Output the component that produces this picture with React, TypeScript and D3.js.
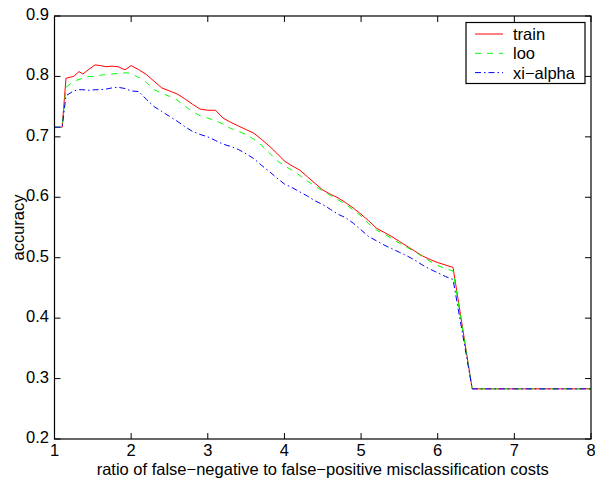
import React from 'react';
import * as d3 from 'd3';

// cost ratio (x) shared by all three curves
const ratio = [
  1.0, 1.1, 1.15, 1.25, 1.32, 1.37, 1.45, 1.53, 1.6, 1.67, 1.75, 1.83, 1.92,
  2.0, 2.1, 2.2, 2.3, 2.4, 2.5, 2.6, 2.7, 2.8, 2.9, 3.0, 3.1, 3.2, 3.3, 3.4,
  3.5, 3.6, 3.7, 3.8, 3.9, 4.0, 4.1, 4.2, 4.3, 4.4, 4.5, 4.6, 4.7, 4.8, 4.9,
  5.0, 5.1, 5.2, 5.3, 5.4, 5.5, 5.6, 5.7, 5.8, 5.9, 6.0, 6.1, 6.2, 6.45, 8.0,
];

const train = [
  0.716, 0.716, 0.797, 0.800, 0.808, 0.804, 0.812, 0.819, 0.818, 0.816, 0.817, 0.816, 0.811,
  0.818, 0.811, 0.803, 0.792, 0.781, 0.776, 0.771, 0.763, 0.754, 0.746, 0.744, 0.744, 0.731, 0.724, 0.718,
  0.712, 0.706, 0.696, 0.685, 0.673, 0.660, 0.652, 0.645, 0.634, 0.623, 0.612, 0.605, 0.599, 0.591, 0.582,
  0.572, 0.561, 0.549, 0.542, 0.535, 0.527, 0.519, 0.511, 0.503, 0.497, 0.492, 0.488, 0.484, 0.283, 0.283,
];

const loo = [
  0.716, 0.716, 0.782, 0.792, 0.795, 0.797, 0.800, 0.800, 0.802, 0.803, 0.804, 0.805, 0.806,
  0.805, 0.798, 0.790, 0.778, 0.772, 0.767, 0.761, 0.751, 0.742, 0.735, 0.731, 0.727, 0.721, 0.714, 0.709,
  0.704, 0.696, 0.686, 0.674, 0.661, 0.652, 0.645, 0.636, 0.627, 0.618, 0.611, 0.603, 0.596, 0.588, 0.579,
  0.569, 0.556, 0.546, 0.539, 0.532, 0.524, 0.517, 0.510, 0.502, 0.494, 0.487, 0.482, 0.478, 0.283, 0.283,
];

const xiAlpha = [
  0.716, 0.716, 0.768, 0.776, 0.778, 0.778, 0.777, 0.778, 0.778, 0.779, 0.781, 0.782, 0.780,
  0.776, 0.775, 0.762, 0.750, 0.742, 0.734, 0.726, 0.717, 0.709, 0.704, 0.700, 0.694, 0.688, 0.684, 0.679,
  0.672, 0.664, 0.653, 0.643, 0.632, 0.622, 0.616, 0.609, 0.602, 0.594, 0.588, 0.580, 0.572, 0.566, 0.557,
  0.546, 0.535, 0.528, 0.521, 0.515, 0.509, 0.503, 0.496, 0.488, 0.481, 0.475, 0.469, 0.464, 0.283, 0.283,
];

const xTicks = [1, 2, 3, 4, 5, 6, 7, 8];
const yTicks = [0.2, 0.3, 0.4, 0.5, 0.6, 0.7, 0.8, 0.9];

const seriesNames = ['train', 'loo', 'xi\u2212alpha'];
const seriesValues = [train, loo, xiAlpha];
const seriesColors = ['#ff0000', '#00ff00', '#0000ff'];
const seriesDash = [null, '6,6', '6,3,1.5,3'];

const W = 595, H = 479;
const left = 54.5, right = 591, top = 16, bottom = 439;
const font = 'Helvetica, Arial, "Liberation Sans", sans-serif';

export default function App() {
  const x = d3.scaleLinear().domain([1, 8]).range([left, right]);
  const y = d3.scaleLinear().domain([0.2, 0.9]).range([bottom, top]);
  const tick = 6;

  const line = (vals: number[]) =>
    d3.line<number>()
      .x((_, i) => x(ratio[i]))
      .y(d => y(d))(vals) as string;

  // legend
  const lx = 466, ly = 22.5, lw = 119, lh = 61;

  return (
    <svg width={W} height={H} style={{ position: 'absolute', left: 0, top: 0, background: '#fff' }}
         fontFamily={font}>
      <rect x={0} y={0} width={W} height={H} fill="#fff" />

      {seriesValues.map((vals, i) =>
        <path key={seriesNames[i]} d={line(vals)} fill="none"
              stroke={seriesColors[i]} strokeWidth={1}
              strokeDasharray={seriesDash[i] || undefined} />
      )}

      {/* axis box */}
      <rect x={left} y={top} width={right - left} height={bottom - top}
            fill="none" stroke="#000" strokeWidth={1.2} />

      {xTicks.map(t =>
        <g key={'x' + t}>
          <line x1={x(t)} x2={x(t)} y1={bottom} y2={bottom - tick} stroke="#000" />
          <line x1={x(t)} x2={x(t)} y1={top} y2={top + tick} stroke="#000" />
          <text x={x(t)} y={456} fontSize={16.5} textAnchor="middle">{t}</text>
        </g>
      )}

      {yTicks.map(t =>
        <g key={'y' + t}>
          <line x1={left} x2={left + tick} y1={y(t)} y2={y(t)} stroke="#000" />
          <line x1={right} x2={right - tick} y1={y(t)} y2={y(t)} stroke="#000" />
          <text x={49} y={y(t) + 4} fontSize={16.5} textAnchor="end">{t.toFixed(1)}</text>
        </g>
      )}

      <text x={(left + right) / 2} y={475} fontSize={16.5} textAnchor="middle">
        ratio of false{'\u2212'}negative to false{'\u2212'}positive misclassification costs
      </text>
      <text transform={`translate(24,${(top + bottom) / 2}) rotate(-90)`} fontSize={16.5}
            textAnchor="middle">accuracy</text>

      <g>
        <rect x={lx} y={ly} width={lw} height={lh} fill="#fff" stroke="#000" strokeWidth={1.2} />
        {seriesNames.map((name, i) => {
          const ry = ly + 11.5 + i * 19.3;
          return (
            <g key={'l' + name}>
              <line x1={lx + 9} x2={lx + 37} y1={ry} y2={ry} stroke={seriesColors[i]}
                    strokeDasharray={seriesDash[i] || undefined} />
              <text x={lx + 47} y={ry + 6} fontSize={16.5}>{name}</text>
            </g>
          );
        })}
      </g>
    </svg>
  );
}
